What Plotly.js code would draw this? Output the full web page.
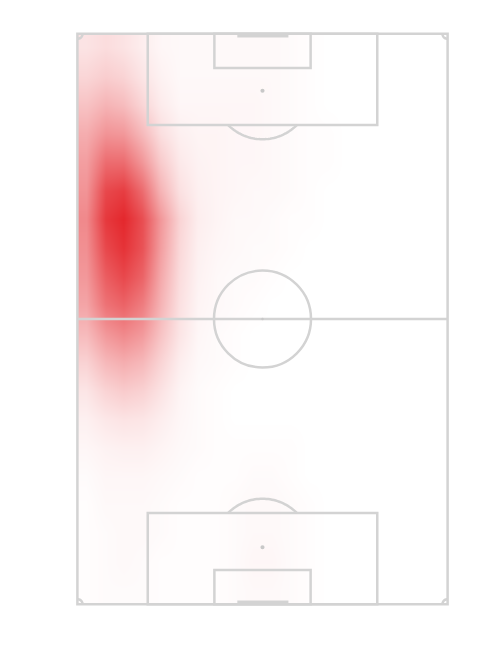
<!DOCTYPE html>
<html>
<head>
<meta charset="utf-8">
<script src="https://cdn.plot.ly/plotly-3.0.1.min.js"></script>
<style>html,body{margin:0;padding:0;background:#fff;}#chart{width:500px;height:650px;}</style>
</head>
<body>
<div id="chart"></div>
<script>
// Grid centres (Wyscout-style 0-100 pitch coordinates)
const xCenters = [2.5,7.5,12.5,17.5,22.5,27.5,32.5,37.5,42.5,47.5,52.5,57.5,62.5,67.5,72.5,77.5,82.5,87.5,92.5,97.5];
const yCenters = [97.5,92.5,87.5,82.5,77.5,72.5,67.5,62.5,57.5,52.5,47.5,42.5,37.5,32.5,27.5,22.5,17.5,12.5,7.5,2.5];

// Estimated relative density (0-1), one row per yCenter (top to bottom)
const row975 = [0.13,0.16,0.13,0.08,0.04,0.03,0.03,0.03,0.03,0.03,0.03,0.02,0.01,0,0,0,0,0,0,0];
const row925 = [0.19,0.23,0.20,0.12,0.06,0.03,0.03,0.03,0.03,0.03,0.03,0.02,0.01,0,0,0,0,0,0,0];
const row875 = [0.28,0.35,0.31,0.19,0.09,0.04,0.04,0.04,0.04,0.04,0.03,0.02,0.01,0,0,0,0,0,0,0];
const row825 = [0.38,0.50,0.48,0.32,0.15,0.07,0.05,0.05,0.04,0.04,0.03,0.02,0.01,0.01,0,0,0,0,0,0];
const row775 = [0.45,0.68,0.68,0.48,0.24,0.10,0.06,0.05,0.04,0.04,0.03,0.02,0.01,0.01,0,0,0,0,0,0];
const row725 = [0.50,0.85,0.90,0.68,0.35,0.14,0.07,0.05,0.04,0.03,0.03,0.02,0.01,0,0,0,0,0,0,0];
const row675 = [0.55,0.92,1.00,0.82,0.48,0.20,0.08,0.05,0.03,0.03,0.02,0.01,0.01,0,0,0,0,0,0,0];
const row625 = [0.52,0.85,0.95,0.80,0.45,0.18,0.07,0.04,0.03,0.02,0.02,0.01,0,0,0,0,0,0,0,0];
const row575 = [0.48,0.75,0.85,0.72,0.40,0.16,0.06,0.03,0.02,0.02,0.01,0,0,0,0,0,0,0,0,0];
const row525 = [0.42,0.65,0.72,0.60,0.35,0.14,0.05,0.03,0.02,0.01,0,0,0,0,0,0,0,0,0,0];
const row475 = [0.32,0.48,0.55,0.47,0.28,0.12,0.04,0.02,0.01,0,0,0,0,0,0,0,0,0,0,0];
const row425 = [0.21,0.33,0.38,0.33,0.20,0.08,0.03,0.02,0.01,0,0,0,0,0,0,0,0,0,0,0];
const row375 = [0.12,0.20,0.24,0.21,0.13,0.05,0.02,0.01,0,0,0,0,0,0,0,0,0,0,0,0];
const row325 = [0.07,0.11,0.13,0.12,0.08,0.04,0.02,0.01,0,0,0,0,0,0,0,0,0,0,0,0];
const row275 = [0.04,0.06,0.07,0.07,0.05,0.03,0.02,0.01,0.01,0.01,0.01,0.01,0,0,0,0,0,0,0,0];
const row225 = [0.02,0.04,0.04,0.04,0.03,0.02,0.01,0.01,0.01,0.02,0.02,0.01,0,0,0,0,0,0,0,0];
const row175 = [0.01,0.03,0.03,0.03,0.02,0.01,0.01,0.01,0.02,0.03,0.03,0.02,0.01,0,0,0,0,0,0,0];
const row125 = [0.01,0.02,0.03,0.03,0.02,0.01,0.01,0.01,0.02,0.03,0.03,0.02,0.01,0,0,0,0,0,0,0];
const row075 = [0.01,0.02,0.03,0.02,0.01,0.01,0.01,0.01,0.02,0.04,0.04,0.02,0.01,0,0,0,0,0,0,0];
const row025 = [0.01,0.02,0.02,0.02,0.01,0.01,0.01,0.01,0.02,0.03,0.03,0.02,0.01,0,0,0,0,0,0,0];

const density = [row975,row925,row875,row825,row775,row725,row675,row625,row575,row525,
                 row475,row425,row375,row325,row275,row225,row175,row125,row075,row025];

// ---- pitch drawing (decoration) ----
const LINE = '#d3d3d3';
const LW = 2.5;
// pixel scale correction: 1 unit x = 3.70px, 1 unit y = 5.71px
const RX = 13.1, RY = 8.5;          // 9.15m circle in x/y units
const CRX = 1.4, CRY = 0.9;         // corner arcs

function arc(cx, cy, rx, ry, t0, t1, n) {
  let d = '';
  for (let i = 0; i <= n; i++) {
    const t = t0 + (t1 - t0) * i / n;
    const px = cx + rx * Math.cos(t), py = cy + ry * Math.sin(t);
    d += (i === 0 ? 'M ' : ' L ') + px.toFixed(3) + ',' + py.toFixed(3);
  }
  return d;
}
function line(x0, y0, x1, y1, w) {
  return {type:'line', xref:'x', yref:'y', x0, y0, x1, y1, layer:'above',
          line:{color:LINE, width:w || LW}};
}
function rect(x0, y0, x1, y1) {
  return {type:'rect', xref:'x', yref:'y', x0, y0, x1, y1, layer:'above',
          line:{color:LINE, width:LW}, fillcolor:'rgba(0,0,0,0)'};
}
function path(d) {
  return {type:'path', xref:'x', yref:'y', path:d, layer:'above',
          line:{color:LINE, width:LW}};
}
function dot(cx, cy, r) {
  return {type:'circle', xref:'x', yref:'y', x0:cx - r*0.7, x1:cx + r*0.7, y0:cy - r*0.45, y1:cy + r*0.45,
          layer:'above', line:{width:0}, fillcolor:'#c8c8c8'};
}
const a = Math.asin(6 / RY);
const shapes = [
  rect(0, 0, 100, 100),
  line(0, 50, 100, 50),
  {type:'circle', xref:'x', yref:'y', x0:50-RX, x1:50+RX, y0:50-RY, y1:50+RY, layer:'above',
   line:{color:LINE, width:LW}},
  rect(19, 84, 81, 100),
  rect(19, 0, 81, 16),
  rect(37, 94, 63, 100),
  rect(37, 0, 63, 6),
  path(arc(50, 90, RX, RY, -Math.PI + a, -a, 40)),
  path(arc(50, 10, RX, RY, a, Math.PI - a, 40)),
  path(arc(0, 100, CRX, CRY, -Math.PI/2, 0, 10)),
  path(arc(100, 100, CRX, CRY, Math.PI, 1.5*Math.PI, 10)),
  path(arc(0, 0, CRX, CRY, 0, Math.PI/2, 10)),
  path(arc(100, 0, CRX, CRY, Math.PI/2, Math.PI, 10)),
  line(43.2, 99.6, 57, 99.6, 3),
  line(43.2, 0.4, 57, 0.4, 3),
  dot(50, 90, 0.8),
  dot(50, 10, 0.8),
  dot(50, 50, 0.5)
];

const trace = {
  type:'heatmap',
  x: xCenters,
  y: yCenters,
  z: density,
  zmin: 0, zmax: 1,
  zsmooth: 'best',
  colorscale: [[0,'rgb(255,255,255)'],[1,'rgb(228,40,45)']],
  showscale: false,
  hoverinfo: 'skip'
};

const layout = {
  width: 500, height: 650,
  margin: {l:70, r:45, t:28, b:40},
  paper_bgcolor:'#ffffff', plot_bgcolor:'#ffffff',
  xaxis: {range:[-2,102], visible:false, showgrid:false, zeroline:false, fixedrange:true},
  yaxis: {range:[-1,101], visible:false, showgrid:false, zeroline:false, fixedrange:true},
  shapes: shapes,
  showlegend: false
};

Plotly.newPlot('chart', [trace], layout, {displayModeBar:false, staticPlot:true});
</script>
</body>
</html>
